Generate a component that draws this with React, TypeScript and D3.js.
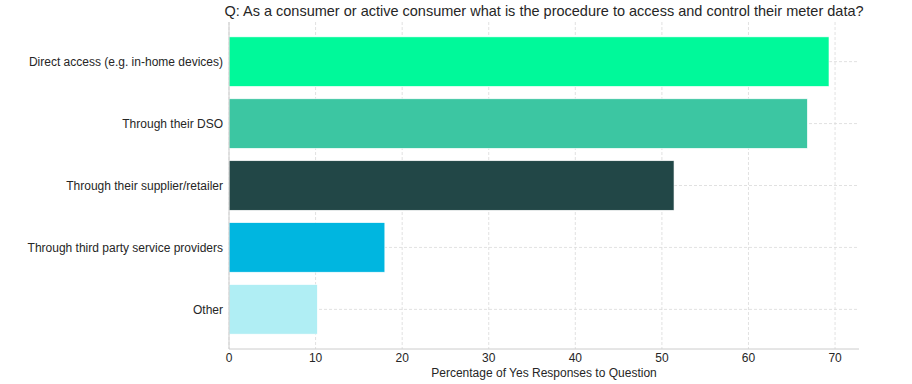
import React, { useEffect, useRef } from 'react';
import * as d3 from 'd3';

const categories = [
  'Direct access (e.g. in-home devices)',
  'Through their DSO',
  'Through their supplier/retailer',
  'Through third party service providers',
  'Other',
];
const values = [69.3, 66.8, 51.4, 18.0, 10.2];
const colors = ['#00f99a', '#3cc6a2', '#224747', '#00b6e0', '#b0eef4'];
const xTicks = [0, 10, 20, 30, 40, 50, 60, 70];

const W = 912;
const H = 384;
const margin = { top: 22, right: 53, bottom: 35, left: 229 };

export default function App() {
  const svgRef = useRef<SVGSVGElement>(null);

  useEffect(() => {
    if (!svgRef.current) return;
    const innerW = W - margin.left - margin.right;
    const innerH = H - margin.top - margin.bottom;

    d3.select(svgRef.current).selectAll('*').remove();
    const svg = d3.select(svgRef.current).attr('width', W).attr('height', H);
    const font = '"Liberation Sans", Arial, sans-serif';

    const g = svg.append('g').attr('transform', `translate(${margin.left},${margin.top})`);

    const x = d3.scaleLinear().domain([0, (d3.max(values) || 0) * 1.05]).range([0, innerW]);
    // matplotlib-style barh positions: index 0 at top
    const n = categories.length;
    const y = d3.scaleLinear().domain([-0.4 - 0.05 * (n - 0.2), n - 0.6 + 0.05 * (n - 0.2)]).range([0, innerH]);
    const barH = y(0.8) - y(0);

    // grid
    g.selectAll('.vgrid')
      .data(xTicks)
      .enter()
      .append('line')
      .attr('x1', d => x(d))
      .attr('x2', d => x(d))
      .attr('y1', 0)
      .attr('y2', innerH)
      .attr('stroke', '#d9d9d9')
      .attr('stroke-width', 0.8)
      .attr('stroke-dasharray', '3,2');
    g.selectAll('.hgrid')
      .data(categories)
      .enter()
      .append('line')
      .attr('x1', 0)
      .attr('x2', innerW)
      .attr('y1', (d, i) => y(i))
      .attr('y2', (d, i) => y(i))
      .attr('stroke', '#d9d9d9')
      .attr('stroke-width', 0.8)
      .attr('stroke-dasharray', '3,2');

    // bars
    g.selectAll('.bar')
      .data(values)
      .enter()
      .append('rect')
      .attr('x', 0)
      .attr('y', (d, i) => y(i) - barH / 2)
      .attr('width', d => x(d))
      .attr('height', barH)
      .attr('fill', (d, i) => colors[i])
      .attr('stroke', 'white')
      .attr('stroke-width', 0.6);

    // spines
    g.append('line')
      .attr('x1', 0).attr('x2', 0).attr('y1', 0).attr('y2', innerH)
      .attr('stroke', '#cccccc').attr('stroke-width', 1);
    g.append('line')
      .attr('x1', 0).attr('x2', innerW).attr('y1', innerH).attr('y2', innerH)
      .attr('stroke', '#cccccc').attr('stroke-width', 1);

    // x tick labels
    g.selectAll('.xt')
      .data(xTicks)
      .enter()
      .append('text')
      .attr('x', d => x(d))
      .attr('y', innerH + 13)
      .attr('text-anchor', 'middle')
      .attr('font-family', font)
      .attr('font-size', 12)
      .attr('fill', '#262626')
      .text(d => d);

    // y tick labels
    g.selectAll('.yt')
      .data(categories)
      .enter()
      .append('text')
      .attr('x', -6)
      .attr('y', (d, i) => y(i))
      .attr('dy', '0.35em')
      .attr('text-anchor', 'end')
      .attr('font-family', font)
      .attr('font-size', 12)
      .attr('fill', '#262626')
      .text(d => d);

    // x label
    g.append('text')
      .attr('x', innerW / 2)
      .attr('y', innerH + 28)
      .attr('text-anchor', 'middle')
      .attr('font-family', font)
      .attr('font-size', 12)
      .attr('fill', '#262626')
      .text('Percentage of Yes Responses to Question');

    // title
    g.append('text')
      .attr('x', innerW / 2)
      .attr('y', -6)
      .attr('text-anchor', 'middle')
      .attr('font-family', font)
      .attr('font-size', 14.5)
      .attr('fill', '#262626')
      .text('Q: As a consumer or active consumer what is the procedure to access and control their meter data?');
  }, []);

  return <svg ref={svgRef} style={{ display: 'block', position: 'absolute', left: 0, top: 0, background: 'white' }} />;
}
